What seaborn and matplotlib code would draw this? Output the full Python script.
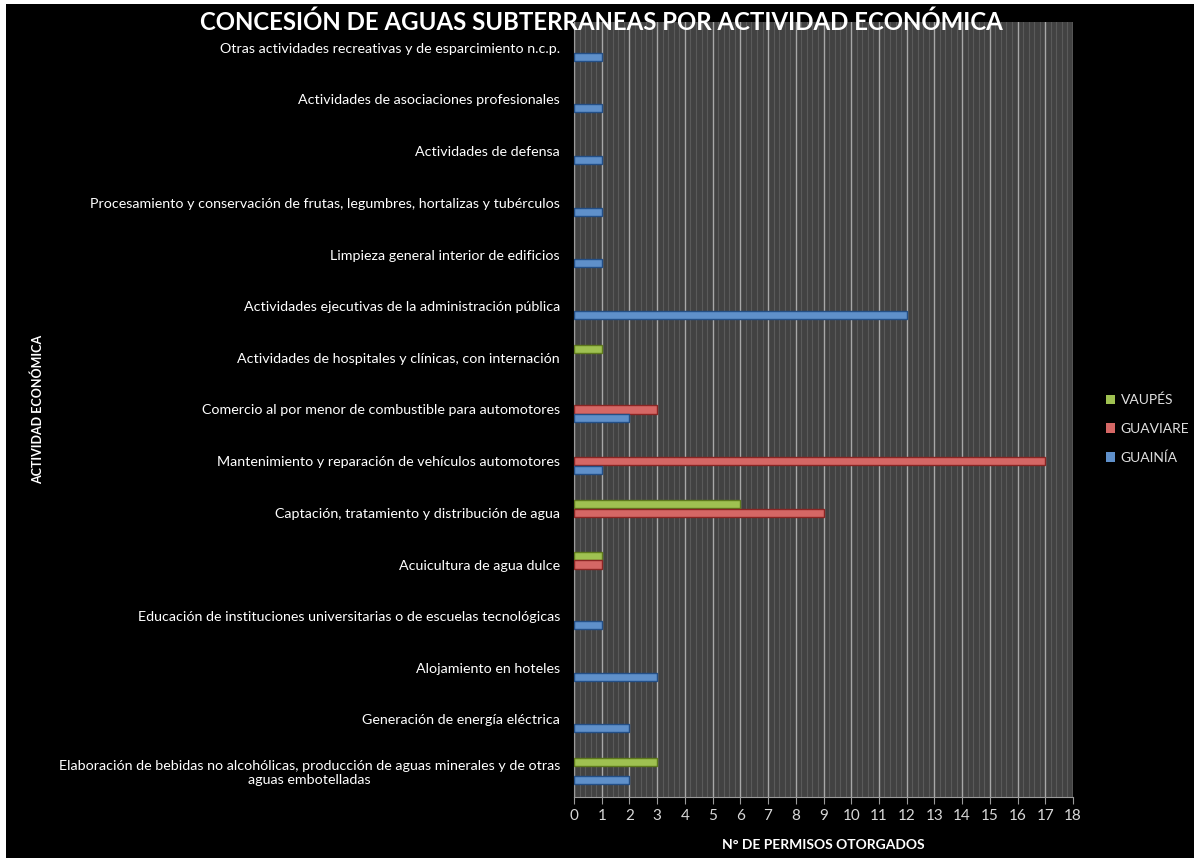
import pandas as pd
import numpy as np
import seaborn as sns
import matplotlib.pyplot as plt
from matplotlib.ticker import MultipleLocator
from matplotlib.patches import Rectangle

# categories, top to bottom as shown
actividades = [
    'Otras actividades recreativas y de esparcimiento n.c.p.',
    'Actividades de asociaciones profesionales',
    'Actividades de defensa',
    'Procesamiento y conservación de frutas, legumbres, hortalizas y tubérculos',
    'Limpieza general interior de edificios',
    'Actividades ejecutivas de la administración pública',
    'Actividades de hospitales y clínicas, con internación',
    'Comercio al por menor de combustible para automotores',
    'Mantenimiento y reparación de vehículos automotores',
    'Captación, tratamiento y distribución de agua',
    'Acuicultura de agua dulce',
    'Educación de instituciones universitarias o de escuelas tecnológicas',
    'Alojamiento en hoteles',
    'Generación de energía eléctrica',
    'Elaboración de bebidas no alcohólicas, producción de aguas minerales y de otras\naguas embotelladas',
]
vaupes   = [0, 0, 0, 0, 0, 0, 1, 0, 0, 6, 1, 0, 0, 0, 3]
guaviare = [0, 0, 0, 0, 0, 0, 0, 3, 17, 9, 1, 0, 0, 0, 0]
guainia  = [1, 1, 1, 1, 1, 12, 0, 2, 1, 0, 0, 1, 3, 2, 2]

deptos = ['VAUPÉS', 'GUAVIARE', 'GUAINÍA']
colores = {'VAUPÉS': '#a6d43e', 'GUAVIARE': '#e85552', 'GUAINÍA': '#4d8fdc'}
bordes = {'VAUPÉS': '#5f7a1e', 'GUAVIARE': '#8a2624', 'GUAINÍA': '#244f86'}

rows = []
for dep, vals in zip(deptos, [vaupes, guaviare, guainia]):
    for act, v in zip(actividades, vals):
        if v > 0:
            rows.append({'Actividad': act, 'Departamento': dep, 'Permisos': v})
data = pd.DataFrame(rows)

plt.rcParams['font.family'] = ['Lato', 'DejaVu Sans']

fig = plt.figure(figsize=(11.94, 8.58), dpi=100)
fig.patch.set_facecolor('white')
fig.patches.append(Rectangle((6 / 1194, 0), 1, 1 - 4 / 858, transform=fig.transFigure,
                             facecolor='black', edgecolor='none', zorder=-10))
ax = fig.add_axes([574 / 1194, 61 / 858, 499 / 1194, 775 / 858])
ax.set_facecolor('#424242')

sns.barplot(data=data, x='Permisos', y='Actividad', hue='Departamento',
            order=actividades, hue_order=deptos, palette=colores,
            orient='h', width=0.52, gap=0.1, dodge=True, ax=ax,
            linewidth=1.0, zorder=3)

# darker edge per series, gives a bit of the bevelled look
for cont, dep in zip(ax.containers, deptos):
    for p in cont:
        p.set_edgecolor(bordes[dep])

ax.set_xlim(0, 18)
ax.set_ylim(len(actividades) - 0.5, -0.5)
ax.xaxis.set_major_locator(MultipleLocator(1))
ax.xaxis.set_minor_locator(MultipleLocator(0.2))
ax.grid(which='major', axis='x', color='#a8a8a8', linewidth=1.0, zorder=0)
ax.grid(which='minor', axis='x', color='#5a5a5a', linewidth=0.8, zorder=0)
ax.set_axisbelow(True)
ax.tick_params(axis='x', which='major', colors='#9a9a9a', labelcolor='#d8d8d8',
               labelsize=11, length=5, direction='out')
ax.tick_params(axis='x', which='minor', length=0)
ax.tick_params(axis='y', colors='#9a9a9a', labelcolor='white', labelsize=10.3, length=0, pad=10)
for lab in ax.get_yticklabels():
    lab.set_multialignment('center')
for s in ['top', 'right']:
    ax.spines[s].set_visible(False)
for s in ['left', 'bottom']:
    ax.spines[s].set_color('#9a9a9a')

ax.set_xlabel('N° DE PERMISOS OTORGADOS', color='white', fontsize=10, fontweight='bold', labelpad=12)
ax.set_ylabel('ACTIVIDAD ECONÓMICA', color='white', fontsize=9, fontweight='bold')
ax.yaxis.set_label_coords(-1.062, 0.5)

fig.text(0.504, 0.974, 'CONCESIÓN DE AGUAS SUBTERRANEAS POR ACTIVIDAD ECONÓMICA',
         color='white', fontsize=17.3, fontweight='bold', ha='center', va='center')

leg = ax.legend(loc='center left', bbox_to_anchor=(1093 / 1194, 0.5), bbox_transform=fig.transFigure,
                frameon=False, labelcolor='#e0e0e0', fontsize=10, handlelength=0.7, handleheight=0.7,
                labelspacing=1.2, handletextpad=0.4)

fig.savefig('out.png', dpi=100, facecolor=fig.get_facecolor())
